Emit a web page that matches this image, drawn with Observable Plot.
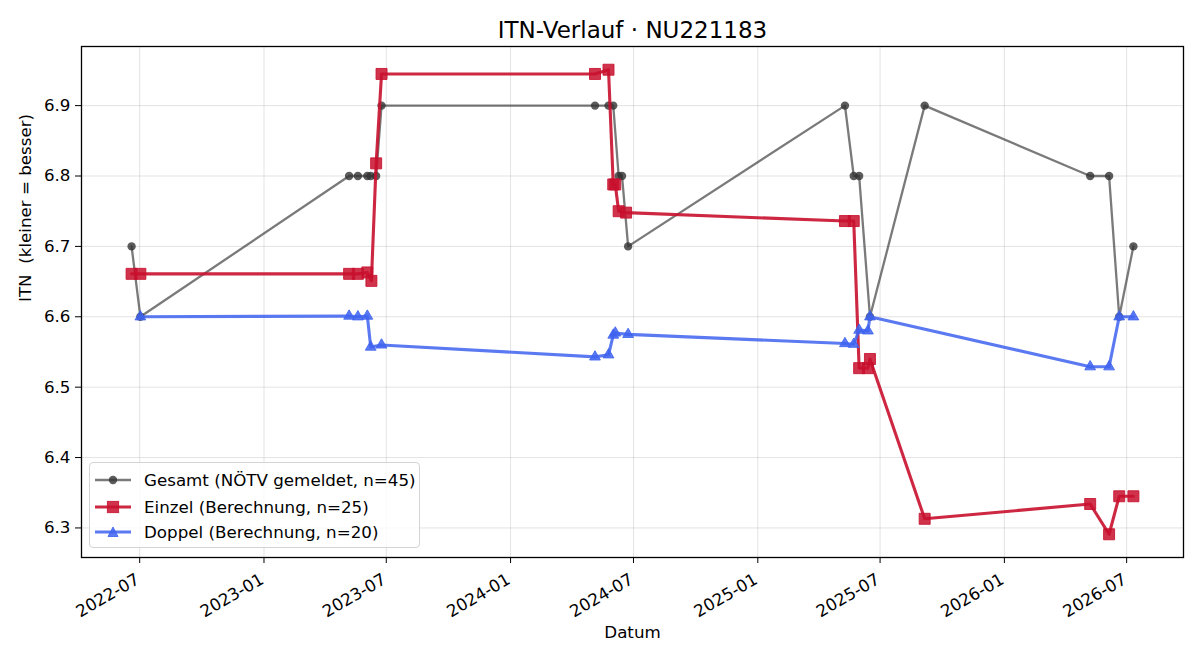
<!DOCTYPE html>
<html>
<head>
<meta charset="utf-8">
<script src="https://cdn.jsdelivr.net/npm/d3@7"></script>
<script src="https://cdn.jsdelivr.net/npm/@observablehq/plot@0.6"></script>
<style>
  body { margin: 0; background: #fff; }
  #chart { position: relative; width: 1200px; height: 660px; font-family: "DejaVu Sans", sans-serif; }
  #chart svg text { white-space: pre; }
  .legend { position: absolute; left: 89px; top: 462px; width: 331px; height: 86px; box-sizing: border-box;
            border: 1px solid #d4d4d4; border-radius: 4px; background: rgba(255,255,255,0.8); }
  .legend .row { position: absolute; left: 5px; height: 26px; display: flex; align-items: center;
                 font-size: 16.7px; color: #000; white-space: nowrap; }
  .legend .row svg { margin-right: 13px; }
</style>
</head>
<body>
<div id="chart"></div>
<script>
// ITN history of player NU221183
const title = "ITN-Verlauf · NU221183";
const xLabel = "Datum";
const yLabel = "ITN  (kleiner = besser)";

// Gesamt: reported overall ITN
const gesamtDates = ["2022-06-19","2022-07-02","2023-05-07","2023-05-20","2023-06-03","2023-06-08","2023-06-16","2023-06-24",
  "2024-05-05","2024-05-25","2024-06-01","2024-06-09","2024-06-14","2024-06-23",
  "2025-05-10","2025-05-23","2025-05-31","2025-06-16","2025-09-05",
  "2026-05-08","2026-06-05","2026-06-20","2026-07-11"];
const gesamtValues = [6.7, 6.6, 6.8, 6.8, 6.8, 6.8, 6.8, 6.9,
  6.9, 6.9, 6.9, 6.8, 6.8, 6.7,
  6.9, 6.8, 6.8, 6.6, 6.9,
  6.8, 6.8, 6.6, 6.7];

// Einzel: computed singles ITN
const einzelDates = ["2022-06-19","2022-07-02","2023-05-07","2023-05-20","2023-06-03","2023-06-09","2023-06-16","2023-06-24",
  "2024-05-05","2024-05-25","2024-06-01","2024-06-04","2024-06-09","2024-06-20",
  "2025-05-10","2025-05-23","2025-05-31","2025-06-13","2025-06-16","2025-09-05",
  "2026-05-08","2026-06-05","2026-06-20","2026-07-11"];
const einzelValues = [6.661, 6.661, 6.661, 6.661, 6.663, 6.651, 6.818, 6.945,
  6.945, 6.951, 6.788, 6.788, 6.750, 6.748,
  6.736, 6.736, 6.527, 6.527, 6.540, 6.313,
  6.334, 6.291, 6.345, 6.345];

// Doppel: computed doubles ITN
const doppelDates = ["2022-07-02","2023-05-07","2023-05-20","2023-06-03","2023-06-08","2023-06-24",
  "2024-05-05","2024-05-25","2024-06-01","2024-06-04","2024-06-23",
  "2025-05-10","2025-05-23","2025-05-31","2025-06-13","2025-06-16",
  "2026-05-08","2026-06-05","2026-06-20","2026-07-11"];
const doppelValues = [6.600, 6.601, 6.600, 6.601, 6.557, 6.560,
  6.543, 6.546, 6.574, 6.577, 6.575,
  6.562, 6.561, 6.581, 6.580, 6.600,
  6.529, 6.529, 6.600, 6.600];

const seriesNames = ["Gesamt (NÖTV gemeldet, n=45)", "Einzel (Berechnung, n=25)", "Doppel (Berechnung, n=20)"];
const xTickLabels = ["2022-07","2023-01","2023-07","2024-01","2024-07","2025-01","2025-07","2026-01","2026-07"];
const yTickValues = [6.3, 6.4, 6.5, 6.6, 6.7, 6.8, 6.9];

const colGesamt = "#333333";
const colEinzel = "#c8102e";
const colDoppel = "#3e63ee";

const parseDay = d3.utcParse("%Y-%m-%d");
const parseMonth = d3.utcParse("%Y-%m");
const toRows = (dates, values) => dates.map((d, i) => ({date: parseDay(d), itn: values[i]}));
const gesamt = toRows(gesamtDates, gesamtValues);
const einzel = toRows(einzelDates, einzelValues);
const doppel = toRows(doppelDates, doppelValues);
const xTicks = xTickLabels.map(parseMonth);

// 5% padding around the data extent on both axes
const allRows = gesamt.concat(einzel, doppel);
const [x0, x1] = d3.extent(allRows, d => d.date);
const xPad = (x1 - x0) * 0.05;
const [y0, y1] = d3.extent(allRows, d => d.itn);
const yPad = (y1 - y0) * 0.05;

const fs = 16.7;
const chart = Plot.plot({
  width: 1200,
  height: 660,
  marginLeft: 81,
  marginRight: 17,
  marginTop: 46,
  marginBottom: 103,
  style: {fontFamily: "DejaVu Sans, sans-serif", fontSize: fs + "px", color: "#000", background: "#fff"},
  x: {type: "utc", domain: [new Date(+x0 - xPad), new Date(+x1 + xPad)]},
  y: {domain: [y0 - yPad, y1 + yPad]},
  marks: [
    Plot.gridX(xTicks, {stroke: "#b0b0b0", strokeOpacity: 0.35, strokeWidth: 1}),
    Plot.gridY(yTickValues, {stroke: "#b0b0b0", strokeOpacity: 0.35, strokeWidth: 1}),
    Plot.line(gesamt, {x: "date", y: "itn", stroke: colGesamt, strokeOpacity: 0.65, strokeWidth: 2.3}),
    Plot.dot(gesamt, {x: "date", y: "itn", r: 4.2, symbol: "circle", fill: colGesamt, fillOpacity: 0.8}),
    Plot.line(einzel, {x: "date", y: "itn", stroke: colEinzel, strokeOpacity: 0.9, strokeWidth: 3.1}),
    Plot.dot(einzel, {x: "date", y: "itn", r: 6.2, symbol: "square", fill: colEinzel, fillOpacity: 0.85,
                      stroke: colEinzel, strokeOpacity: 0.85, strokeWidth: 1}),
    Plot.line(doppel, {x: "date", y: "itn", stroke: colDoppel, strokeOpacity: 0.85, strokeWidth: 3.1}),
    Plot.dot(doppel, {x: "date", y: "itn", r: 4, symbol: "triangle", fill: colDoppel, fillOpacity: 0.85,
                      stroke: colDoppel, strokeOpacity: 0.85, strokeWidth: 1}),
    Plot.frame({stroke: "#000", strokeWidth: 1.3}),
    Plot.axisY({ticks: yTickValues, tickSize: 6, tickPadding: 5, tickFormat: d3.format(".1f"),
                fontSize: fs, label: null, stroke: "#000"}),
    Plot.axisX({ticks: xTicks, tickSize: 6, tickFormat: () => "", label: null, stroke: "#000"}),
    Plot.text(xTicks, {x: d => d, frameAnchor: "bottom", text: d3.utcFormat("%Y-%m"), rotate: -30,
                       textAnchor: "end", lineAnchor: "top", dx: -5, dy: 15, fontSize: fs, fill: "#000"}),
    Plot.text([xLabel], {frameAnchor: "bottom", text: d => d, dy: 80, fontSize: fs, fill: "#000"}),
    Plot.text([yLabel], {frameAnchor: "left", text: d => d, dx: -56, rotate: -90, fontSize: fs, fill: "#000"}),
    Plot.text([title], {frameAnchor: "top", text: d => d, dy: -25, fontSize: 23, fill: "#000"})
  ]
});

const root = document.getElementById("chart");
root.appendChild(chart);

// legend box in the lower left corner of the axes
const legend = document.createElement("div");
legend.className = "legend";
const swatches = [
  {color: colGesamt, lineOpacity: 0.65, lineWidth: 2.3, shape: `<circle cx="18" cy="13" r="4.2" fill="${colGesamt}" fill-opacity="0.8"/>`},
  {color: colEinzel, lineOpacity: 0.9, lineWidth: 3.1, shape: `<rect x="12.4" y="7.4" width="11.2" height="11.2" fill="${colEinzel}" fill-opacity="0.85" stroke="${colEinzel}" stroke-opacity="0.85"/>`},
  {color: colDoppel, lineOpacity: 0.85, lineWidth: 3.1, shape: `<path d="M18,8 L23,17.5 L13,17.5 Z" fill="${colDoppel}" fill-opacity="0.85" stroke="${colDoppel}" stroke-opacity="0.85"/>`}
];
const rowCenters = [16.5, 43.5, 69];
seriesNames.forEach((name, i) => {
  const s = swatches[i];
  const row = document.createElement("div");
  row.className = "row";
  row.style.top = (rowCenters[i] - 13) + "px";
  row.innerHTML = `<svg width="36" height="26"><line x1="0" x2="36" y1="13" y2="13" stroke="${s.color}" stroke-opacity="${s.lineOpacity}" stroke-width="${s.lineWidth}"/>${s.shape}</svg><span>${name}</span>`;
  legend.appendChild(row);
});
root.appendChild(legend);
</script>
</body>
</html>
